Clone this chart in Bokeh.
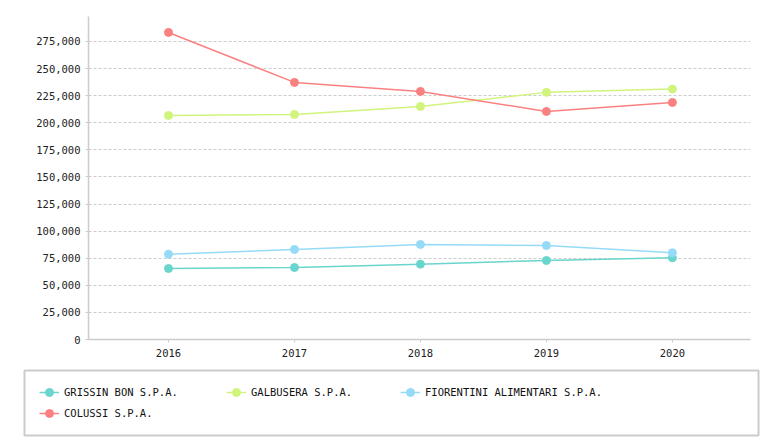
from bokeh.plotting import figure
from bokeh.models import (Range1d, FixedTicker, NumeralTickFormatter, Legend, LegendItem,
                          ColumnDataSource)
from bokeh.layouts import column
from bokeh.embed import file_html
from bokeh.resources import INLINE

years = [2016, 2017, 2018, 2019, 2020]
grissin = [65500, 66400, 69500, 72900, 75400]
galbusera = [206700, 207600, 215000, 228000, 231000]
fiorentini = [78700, 83100, 87700, 86700, 80000]
colussi = [283300, 237200, 228900, 210400, 218700]
y_ticks = [0, 25000, 50000, 75000, 100000, 125000, 150000, 175000, 200000,
           225000, 250000, 275000]

series = [
    ("GRISSIN BON S.P.A.", grissin, "#6ad5cc"),
    ("GALBUSERA S.P.A.", galbusera, "#d0f47c"),
    ("FIORENTINI ALIMENTARI S.P.A.", fiorentini, "#95dbf7"),
    ("COLUSSI S.P.A.", colussi, "#fb8181"),
]

FONT = "DejaVu Sans Mono"

p = figure(width=761, height=365, output_backend="svg", toolbar_location=None,
           x_range=Range1d(2015.365, 2020.62), y_range=Range1d(0, 298000),
           min_border_left=88, min_border_right=11, min_border_top=16,
           min_border_bottom=26)
p.frame_align = False
p.outline_line_color = None
p.background_fill_color = "white"

# legend panel figure
p2 = figure(width=760, height=72, output_backend="svg", toolbar_location=None,
            x_range=Range1d(0, 1), y_range=Range1d(0, 1),
            x_axis_type=None, y_axis_type=None,
            min_border_left=24, min_border_right=2, min_border_top=5,
            min_border_bottom=2)
p2.frame_align = False
p2.xgrid.visible = False
p2.ygrid.visible = False
p2.outline_line_color = "#cccccc"
p2.outline_line_width = 2

items = {}
for name, vals, col in series:
    src = ColumnDataSource(dict(x=years, y=vals))
    p.line("x", "y", source=src, line_color=col, line_width=1.5)
    p.scatter("x", "y", source=src, size=8, fill_color=col, line_color=col)
    # proxies for the legend panel (data lies outside its ranges)
    r1 = p2.line("x", "y", source=src, line_color=col, line_width=1.5)
    r2 = p2.scatter("x", "y", source=src, size=8, fill_color=col, line_color=col)
    items[name] = LegendItem(label=name, renderers=[r1, r2])

p.xgrid.visible = False
p.ygrid.grid_line_color = "#cccccc"
p.ygrid.grid_line_dash = "3 2"
p.ygrid.grid_line_width = 1
p.ygrid.ticker = FixedTicker(ticks=y_ticks)

p.yaxis.ticker = FixedTicker(ticks=y_ticks)
p.yaxis.formatter = NumeralTickFormatter(format="0,0")
p.xaxis.ticker = FixedTicker(ticks=years)
for ax in (p.xaxis, p.yaxis):
    ax.axis_line_color = "#cccccc"
    ax.axis_line_width = 1.5
    ax.major_tick_line_color = "#cccccc"
    ax.major_tick_out = 3
    ax.major_tick_in = 0
    ax.minor_tick_line_color = None
    ax.major_label_text_font = FONT
    ax.major_label_text_font_size = "10.5px"
    ax.major_label_text_color = "#222222"
p.yaxis.major_label_standoff = 5
p.xaxis.major_label_standoff = 6

def mk_legend(its, loc):
    lg = Legend(items=its, location=loc, orientation="vertical",
                padding=0, margin=0, spacing=1,
                glyph_width=20, glyph_height=20, label_height=20,
                label_standoff=5, border_line_color=None,
                background_fill_alpha=0,
                label_text_font=FONT, label_text_font_size="10.5px",
                label_text_color="#111111")
    p2.add_layout(lg, "center")

mk_legend([items["GRISSIN BON S.P.A."], items["COLUSSI S.P.A."]], (15, 12))
mk_legend([items["GALBUSERA S.P.A."]], (202, 33))
mk_legend([items["FIORENTINI ALIMENTARI S.P.A."]], (376, 33))

layout = column(p, p2, spacing=0)
open("out.html", "w").write(file_html(layout, INLINE))
